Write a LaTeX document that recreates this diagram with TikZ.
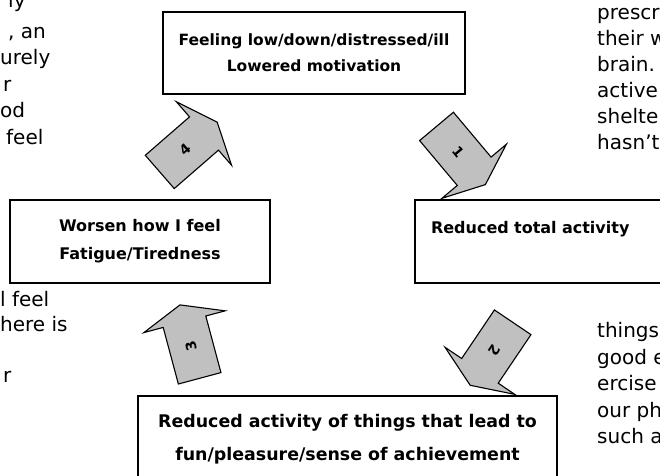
\documentclass[tikz,border=0pt]{standalone}
\usepackage{fontspec}
\setmainfont{DejaVu Sans}
\usetikzlibrary{shapes.arrows}
\definecolor{arrowgrey}{RGB}{192,192,192}
\tikzset{
  box/.style={rectangle, draw, line width=1.4pt, align=center, inner sep=0pt, font=\fontsize{16}{28}\selectfont\bfseries},
  steparrow/.style={single arrow, draw, line width=1.1pt, fill=arrowgrey, single arrow head extend=20pt, single arrow tip angle=135, minimum height=76pt, text height=10pt, text depth=0pt, inner xsep=4pt, inner ysep=16.5pt, font=\fontsize{14}{14}\selectfont\bfseries},
  frag/.style={anchor=base west, inner sep=0pt, font=\fontsize{20}{26}\selectfont},
}

\begin{document}
\begin{tikzpicture}[x=1pt, y=-1pt]
  \path[use as bounding box, clip] (0,0) rectangle (660,475);

  % surrounding paragraph, left column
  \node[frag] (l0) at (8,7) {ly};
  \node[frag] (l1) at (8,38) {, an};
  \node[frag] (l2) at (0,64) {urely};
  \node[frag] (l3) at (3,91) {r};
  \node[frag] (l4) at (0,117) {od};
  \node[frag] (l5) at (6,144) {feel};
  \node[frag] (l6) at (0,306) {l feel};
  \node[frag] (l7) at (0,331) {here is};
  \node[frag] (l8) at (3,382) {r};

  % surrounding paragraph, right column
  \node[frag] (r0) at (597,19) {prescr};
  \node[frag] (r1) at (597,45) {their w};
  \node[frag] (r2) at (597,71) {brain.};
  \node[frag] (r3) at (597,97) {active};
  \node[frag] (r4) at (597,123) {shelte};
  \node[frag] (r5) at (597,149) {hasn’t};
  \node[frag] (r6) at (597,337) {things};
  \node[frag] (r7) at (597,364) {good e};
  \node[frag] (r8) at (597,390) {ercise};
  \node[frag] (r9) at (597,417) {our ph};
  \node[frag] (r10) at (597,443) {such a};

  % the four stages of the cycle
  \node[box, minimum width=302pt, minimum height=82pt, font=\fontsize{15.5}{26}\selectfont\bfseries] (feel) at (314,53)
    {Feeling low/down/distressed/ill\\Lowered motivation};
  \node[box, minimum width=285pt, minimum height=83pt, text width=253pt, inner xsep=16pt, align=left] (reduce) at (557.5,241.5)
    {Reduced total activity\\ \mbox{}};
  \node[box, minimum width=419pt, minimum height=86pt, font=\fontsize{17.4}{33}\selectfont\bfseries] (fun) at (347.5,439)
    {Reduced activity of things that lead to\\fun/pleasure/sense of achievement};
  \node[box, minimum width=260pt, minimum height=83pt] (worse) at (140,241.5)
    {Worsen how I feel\\Fatigue/Tiredness};

  % numbered block arrows
  \node[steparrow, rotate=-50] (step1) at (458,152) {1};
  \node[steparrow, rotate=-124] (step2) at (494,350) {2};
  \node[steparrow, rotate=105] (step3) at (191,346) {3};
  \node[steparrow, rotate=41] (step4) at (185,150) {4};
\end{tikzpicture}
\end{document}
